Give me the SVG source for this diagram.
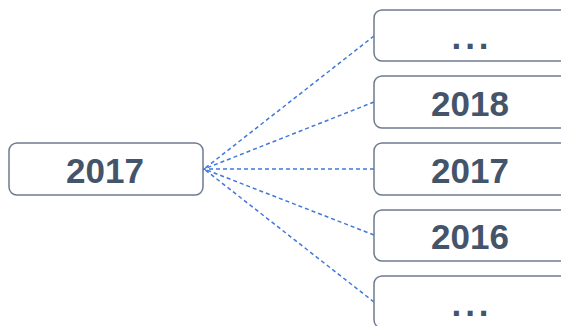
<svg xmlns="http://www.w3.org/2000/svg" width="561" height="326" viewBox="0 0 561 326">
<style>
.box{fill:#ffffff;stroke:#6e7b8f;stroke-width:1.5}
.t{font-family:"Liberation Sans",Arial,sans-serif;font-weight:bold;font-size:35px;fill:#44546a;text-anchor:middle}
.dots{letter-spacing:4px}
.c{fill:none;stroke:#4178dc;stroke-width:1.5;stroke-dasharray:4 3}
</style>
<defs>
<marker id="ah" viewBox="0 0 6 6" refX="0.5" refY="3" markerWidth="6" markerHeight="6" markerUnits="userSpaceOnUse" orient="auto">
<path d="M6,0 L0,3 L6,6 Z" fill="#3c78d8"/>
</marker>
</defs>
<rect width="561" height="326" fill="#ffffff"/>
<g id="connectors">
<line class="c" x1="374" y1="36" x2="204" y2="169" marker-end="url(#ah)"/>
<line class="c" x1="374" y1="102" x2="204" y2="169" marker-end="url(#ah)"/>
<line class="c" x1="374" y1="169" x2="204" y2="169" marker-end="url(#ah)"/>
<line class="c" x1="374" y1="235" x2="204" y2="169" marker-end="url(#ah)"/>
<line class="c" x1="374" y1="302" x2="204" y2="169" marker-end="url(#ah)"/>
</g>
<g id="node-left">
<rect class="box" x="9" y="143" width="194" height="52" rx="8"/>
<text class="t" x="105" y="183">2017</text>
</g>
<g id="node-r1">
<rect class="box" x="374" y="10" width="194" height="51" rx="8"/>
<text class="t dots" x="472" y="49">...</text>
</g>
<g id="node-r2">
<rect class="box" x="374" y="76" width="194" height="52" rx="8"/>
<text class="t" x="470" y="116">2018</text>
</g>
<g id="node-r3">
<rect class="box" x="374" y="143" width="194" height="52" rx="8"/>
<text class="t" x="470" y="183">2017</text>
</g>
<g id="node-r4">
<rect class="box" x="374" y="210" width="194" height="51" rx="8"/>
<text class="t" x="470" y="249">2016</text>
</g>
<g id="node-r5">
<rect class="box" x="374" y="276" width="194" height="52" rx="8"/>
<text class="t dots" x="472" y="316">...</text>
</g>
</svg>
